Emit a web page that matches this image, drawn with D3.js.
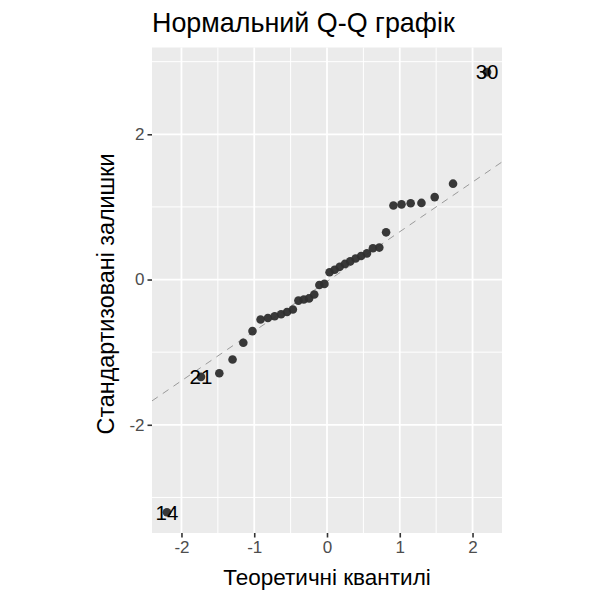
<!DOCTYPE html>
<html>
<head>
<meta charset="utf-8">
<script src="https://cdn.jsdelivr.net/npm/d3@7"></script>
<style>
  html, body { margin: 0; padding: 0; background: #fff; }
  svg { display: block; font-family: "Liberation Sans", Arial, sans-serif; }
</style>
</head>
<body>
<svg id="chart" width="600" height="600"></svg>
<script>
// Theoretical quantiles (x) and standardized residuals (y), sorted
const theoretical = [-2.200, -1.732, -1.480, -1.298, -1.150, -1.024, -0.913, -0.812, -0.719, -0.631,
  -0.549, -0.469, -0.393, -0.319, -0.246, -0.175, -0.105, -0.035, 0.035, 0.105,
  0.175, 0.246, 0.319, 0.393, 0.469, 0.549, 0.631, 0.719, 0.812, 0.913,
  1.024, 1.150, 1.298, 1.480, 1.732, 2.200];
const residuals = [-3.205, -1.34, -1.29, -1.10, -0.87, -0.71, -0.55, -0.53, -0.505, -0.477,
  -0.446, -0.413, -0.29, -0.275, -0.26, -0.205, -0.075, -0.06, 0.10, 0.135,
  0.175, 0.215, 0.25, 0.29, 0.325, 0.36, 0.43, 0.44, 0.65, 1.02,
  1.035, 1.05, 1.055, 1.135, 1.32, 2.856];
// labelled observations: index into sorted arrays -> label
const labelIndex = [0, 1, 35];
const labelText = ["14", "21", "30"];
// reference line (through quartiles)
const lineIntercept = -0.026;
const lineSlope = 0.684;

const xTicks = [-2, -1, 0, 1, 2];
const xMinor = [-1.5, -0.5, 0.5, 1.5];
const yTicks = [-2, 0, 2];
const yMinor = [-3, -1, 1, 3];

const title = "Нормальний Q-Q графік";
const xTitle = "Теоретичні квантилі";
const yTitle = "Стандартизовані залишки";

const svg = d3.select("#chart");
const panel = {left: 152, right: 502, top: 47.5, bottom: 533};

const x = d3.scaleLinear().domain([-2.405, 2.405]).range([panel.left, panel.right]);
const y = d3.scaleLinear().domain([-3.49, 3.195]).range([panel.bottom, panel.top]);

// panel background
svg.append("rect")
  .attr("x", panel.left).attr("y", panel.top)
  .attr("width", panel.right - panel.left).attr("height", panel.bottom - panel.top)
  .attr("fill", "#EBEBEB");

const grid = svg.append("g");
// minor grid
grid.selectAll(".xm").data(xMinor).enter().append("line")
  .attr("x1", d => x(d)).attr("x2", d => x(d))
  .attr("y1", panel.top).attr("y2", panel.bottom)
  .attr("stroke", "#fff").attr("stroke-width", 1);
grid.selectAll(".ym").data(yMinor).enter().append("line")
  .attr("y1", d => y(d)).attr("y2", d => y(d))
  .attr("x1", panel.left).attr("x2", panel.right)
  .attr("stroke", "#fff").attr("stroke-width", 1);
// major grid
grid.selectAll(".xM").data(xTicks).enter().append("line")
  .attr("x1", d => x(d)).attr("x2", d => x(d))
  .attr("y1", panel.top).attr("y2", panel.bottom)
  .attr("stroke", "#fff").attr("stroke-width", 1.8);
grid.selectAll(".yM").data(yTicks).enter().append("line")
  .attr("y1", d => y(d)).attr("y2", d => y(d))
  .attr("x1", panel.left).attr("x2", panel.right)
  .attr("stroke", "#fff").attr("stroke-width", 1.8);

// reference dashed line, clipped to panel
svg.append("clipPath").attr("id", "clip").append("rect")
  .attr("x", panel.left).attr("y", panel.top)
  .attr("width", panel.right - panel.left).attr("height", panel.bottom - panel.top);
const xd = x.domain();
svg.append("line")
  .attr("clip-path", "url(#clip)")
  .attr("x1", x(xd[0])).attr("y1", y(lineIntercept + lineSlope * xd[0]))
  .attr("x2", x(xd[1])).attr("y2", y(lineIntercept + lineSlope * xd[1]))
  .attr("stroke", "#9a9a9a").attr("stroke-width", 1)
  .attr("stroke-dasharray", "7,6");

// points
const pts = theoretical.map((t, i) => ({t, r: residuals[i]}));
svg.append("g").selectAll("circle").data(pts).enter().append("circle")
  .attr("cx", d => x(d.t)).attr("cy", d => y(d.r))
  .attr("r", 4.3)
  .attr("fill", "#2e2e2e").attr("fill-opacity", 0.95);

// labels
svg.append("g").selectAll("text").data(labelIndex).enter().append("text")
  .attr("x", d => x(theoretical[d]))
  .attr("y", d => y(residuals[d]))
  .attr("dy", "0.36em")
  .attr("text-anchor", "middle")
  .attr("font-size", 20.5)
  .attr("fill", "#000")
  .text((d, i) => labelText[i]);

// axes
const fmt = d => String(d);
const xAxis = d3.axisBottom(x).tickValues(xTicks).tickSize(4.5).tickPadding(3).tickFormat(fmt);
const gx = svg.append("g").attr("transform", `translate(0,${panel.bottom})`).call(xAxis);
gx.select(".domain").remove();
gx.selectAll(".tick line").attr("stroke", "#333").attr("stroke-width", 1.6);
gx.selectAll(".tick text").attr("font-size", 17).attr("fill", "#4D4D4D")
  .attr("font-family", "Liberation Sans, Arial, sans-serif");

const yAxis = d3.axisLeft(y).tickValues(yTicks).tickSize(4.5).tickPadding(3).tickFormat(fmt);
const gy = svg.append("g").attr("transform", `translate(${panel.left},0)`).call(yAxis);
gy.select(".domain").remove();
gy.selectAll(".tick line").attr("stroke", "#333").attr("stroke-width", 1.6);
gy.selectAll(".tick text").attr("font-size", 17).attr("fill", "#4D4D4D")
  .attr("font-family", "Liberation Sans, Arial, sans-serif");

// titles
svg.append("text").attr("x", panel.left).attr("y", 31.5)
  .attr("font-size", 26.9).attr("fill", "#000").text(title);
svg.append("text").attr("x", (panel.left + panel.right) / 2).attr("y", 585)
  .attr("text-anchor", "middle").attr("font-size", 22.5).attr("fill", "#000").text(xTitle);
svg.append("text")
  .attr("transform", `translate(114,294) rotate(-90)`)
  .attr("text-anchor", "middle").attr("font-size", 23.3).attr("fill", "#000").text(yTitle);
</script>
</body>
</html>
